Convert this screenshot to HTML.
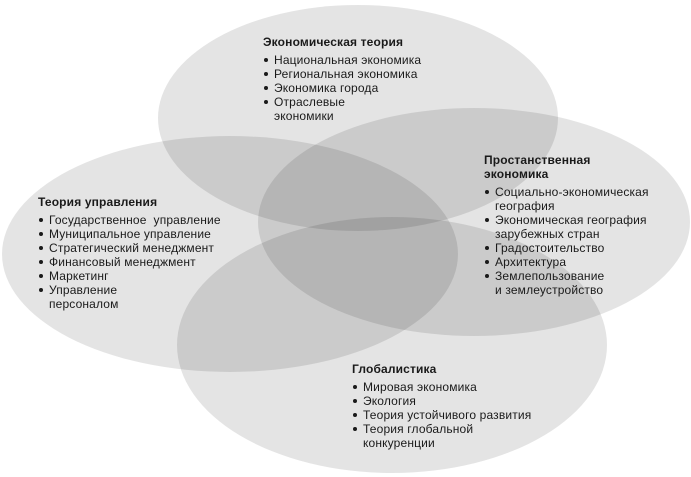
<!DOCTYPE html>
<html><head><meta charset="utf-8"><style>
html,body{margin:0;padding:0;background:#fff;}
body{width:691px;height:477px;position:relative;overflow:hidden;font-family:"Liberation Sans",sans-serif;color:#1a1a1a;}
svg{position:absolute;left:0;top:0;}
.b{position:absolute;font-size:12px;line-height:14px;letter-spacing:0.15px;white-space:nowrap;}
.b .t{font-weight:bold;}
.b ul{margin:4px 0 0 0;padding:0;list-style:none;}
.b li{position:relative;padding-left:11px;}
.b li:before{content:"";position:absolute;left:1px;top:5px;width:4px;height:4px;border-radius:50%;background:#1a1a1a;}
</style></head><body>
<svg width="691" height="477">
<g fill="#000" fill-opacity="0.105">
<ellipse cx="358" cy="118" rx="200" ry="113"/>
<ellipse cx="474" cy="222" rx="216" ry="114"/>
<ellipse cx="230" cy="254" rx="228" ry="118"/>
<ellipse cx="392" cy="345" rx="215" ry="128"/>
</g>
</svg>
<div class="b" style="left:263px;top:35px;"><div class="t">Экономическая теория</div><ul><li>Национальная экономика</li><li>Региональная экономика</li><li>Экономика города</li><li>Отраслевые<br>экономики</li></ul></div>
<div class="b" style="left:484px;top:153px;"><div class="t">Простанственная<br>экономика</div><ul><li>Социально-экономическая<br>география</li><li>Экономическая география<br>зарубежных стран</li><li>Градостоительство</li><li>Архитектура</li><li>Землепользование<br>и землеустройство</li></ul></div>
<div class="b" style="left:38px;top:195px;"><div class="t">Теория управления</div><ul><li>Государственное&nbsp; управление</li><li>Муниципальное управление</li><li>Стратегический менеджмент</li><li>Финансовый менеджмент</li><li>Маркетинг</li><li>Управление<br>персоналом</li></ul></div>
<div class="b" style="left:352px;top:362px;"><div class="t">Глобалистика</div><ul><li>Мировая экономика</li><li>Экология</li><li>Теория устойчивого развития</li><li>Теория глобальной<br>конкуренции</li></ul></div>
</body></html>
